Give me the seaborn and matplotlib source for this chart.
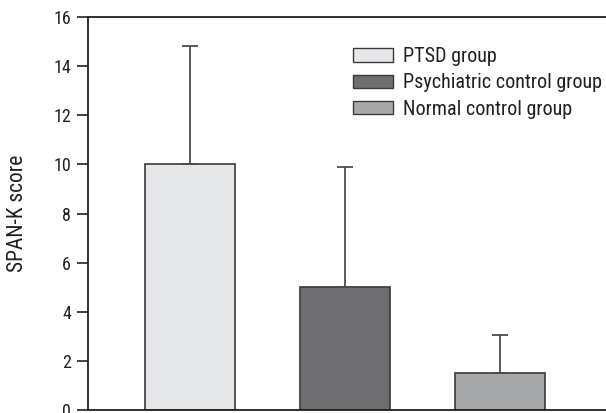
import matplotlib
matplotlib.use("Agg")
import matplotlib.pyplot as plt
import seaborn as sns
import pandas as pd

groups = ["PTSD group", "Psychiatric control group", "Normal control group"]
means = [10.0, 5.0, 1.5]
sd_upper = [4.8, 4.88, 1.57]
colors = ["#e6e7e8", "#6d6e71", "#a7a9ac"]
yticks = [0, 2, 4, 6, 8, 10, 12, 14, 16]

sns.set_style("white")
plt.rcParams["font.family"] = ["Roboto Condensed", "DejaVu Sans"]
plt.rcParams["text.color"] = "#231f20"

df = pd.DataFrame({"group": groups, "score": means})

fig = plt.figure(figsize=(6.06, 4.13), dpi=100)
ax = fig.add_axes([0.145, 0.0073, 0.855, 0.9515])

sns.barplot(data=df, x="group", y="score", hue="group", palette=colors,
            order=groups, hue_order=groups, dodge=False, width=0.585,
            edgecolor="#3a3a3c", linewidth=1.2, errorbar=None, legend=True, ax=ax)

ax.errorbar(range(len(groups)), means, yerr=[[0] * len(groups), sd_upper],
            fmt="none", ecolor="#4d4d4f", elinewidth=1.3, capsize=6, capthick=1.3)

ax.set_xlim(-0.659, 2.685)
ax.set_ylim(0, 16)
ax.set_yticks(yticks)
ax.set_yticklabels([str(t) for t in yticks], fontsize=13, color="#231f20")
ax.set_xticks([])
ax.set_xlabel("")
ax.set_ylabel("SPAN-K score", fontsize=15.5, labelpad=18, color="#231f20")

for side in ["left", "bottom", "top"]:
    ax.spines[side].set_visible(True)
    ax.spines[side].set_color("#231f20")
    ax.spines[side].set_linewidth(1.3)
ax.spines["right"].set_visible(False)
ax.tick_params(axis="y", direction="out", length=8, width=1.2, color="#231f20",
               left=True, pad=4)

leg = ax.legend(loc="upper left", bbox_to_anchor=(0.497, 0.944), frameon=False,
                fontsize=14.5, handlelength=1.95, handleheight=0.65,
                labelspacing=0.36, handletextpad=0.5, borderaxespad=0)
for patch in leg.get_patches():
    patch.set_edgecolor("#3a3a3c")
    patch.set_linewidth(1.0)

fig.savefig("out.png", dpi=100)
